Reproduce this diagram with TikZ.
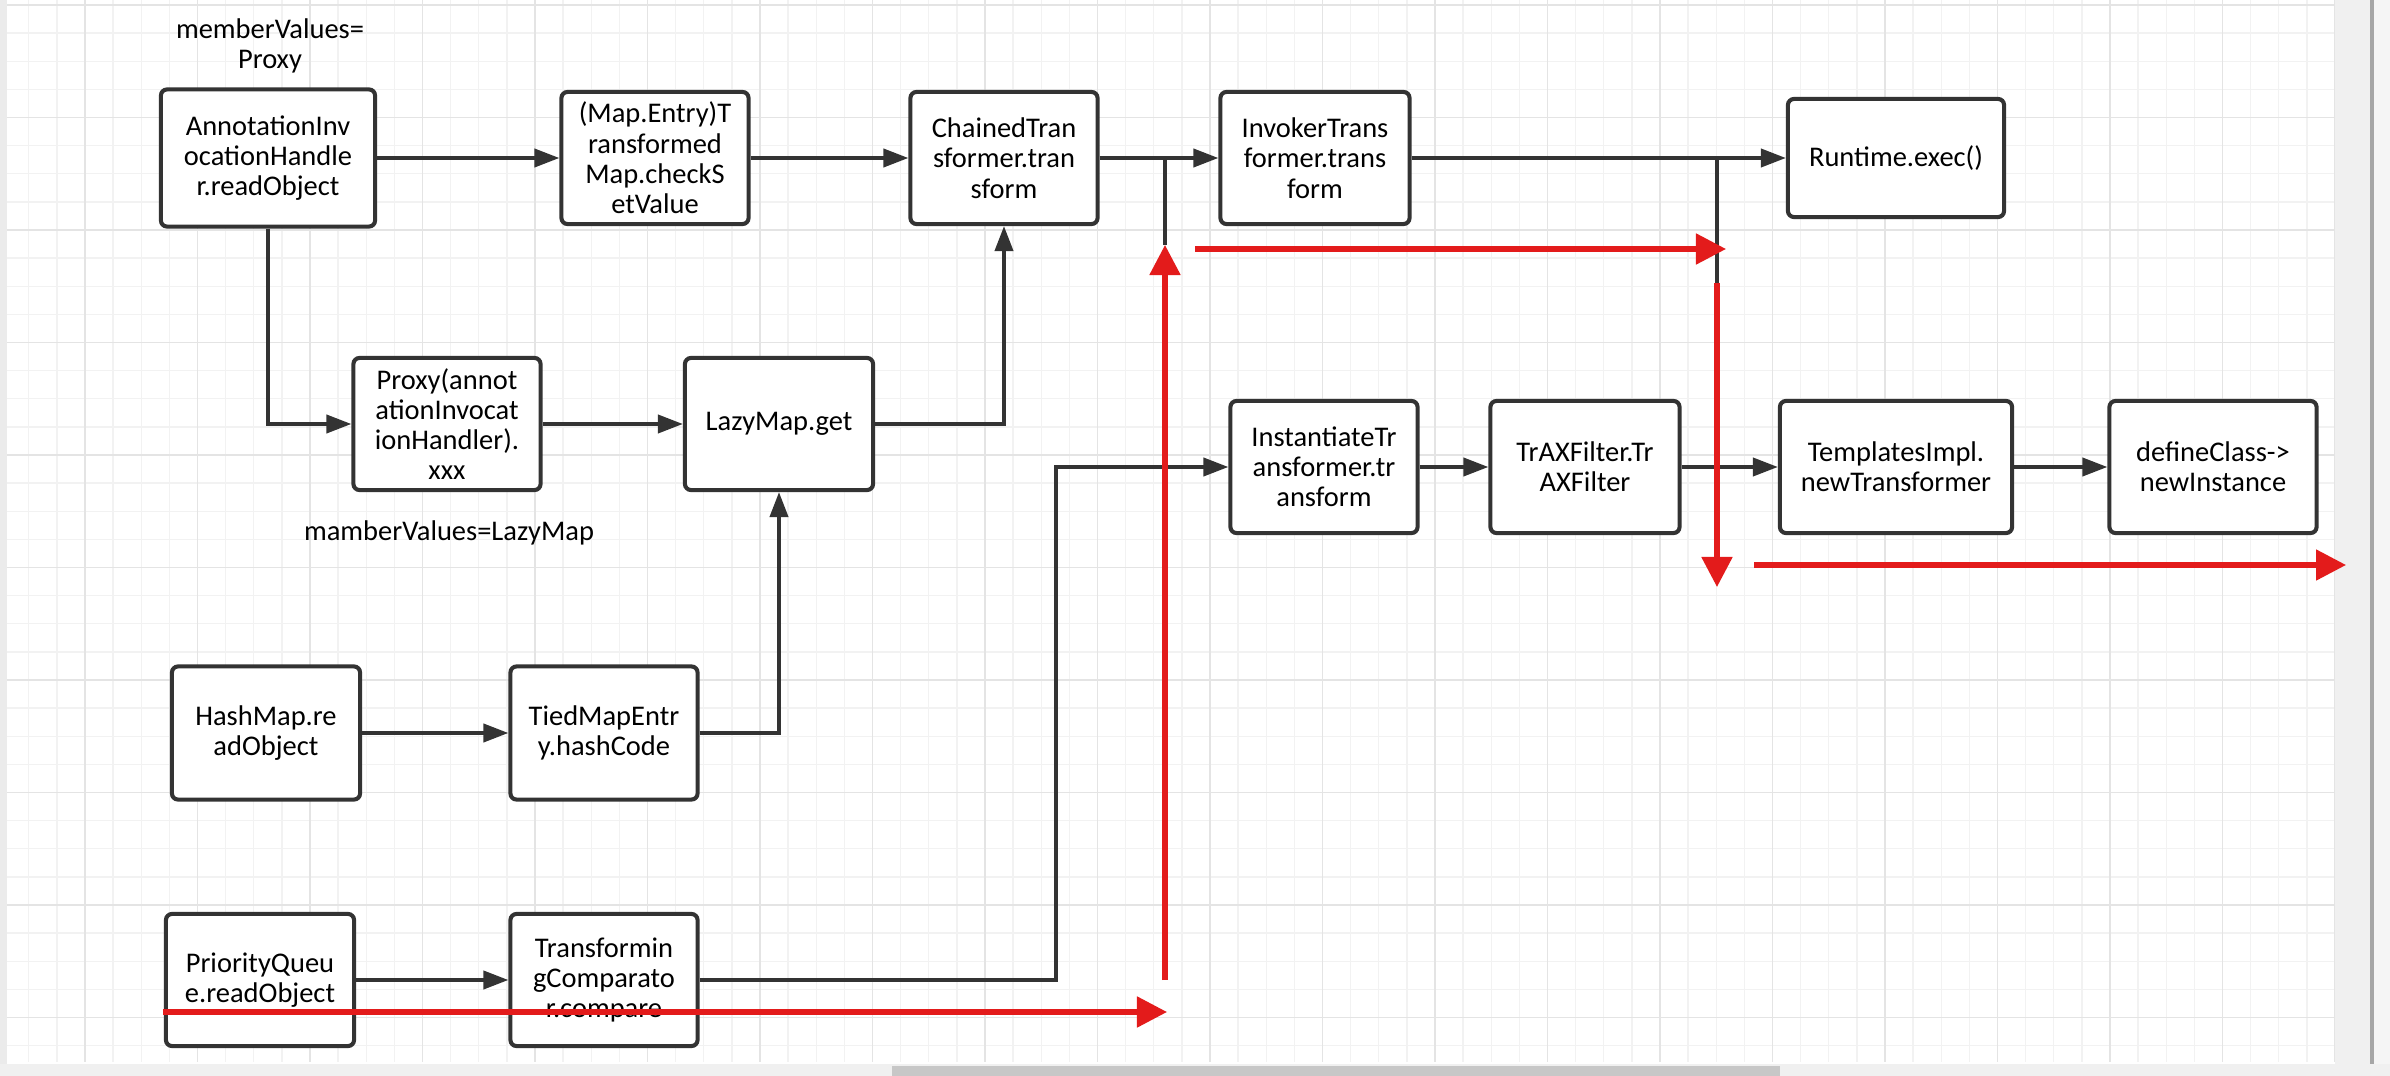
\documentclass[tikz,border=0pt]{standalone}
\usepackage{fontspec}
\setmainfont{Carlito}
\usetikzlibrary{arrows.meta}
\definecolor{boxline}{HTML}{333333}
\definecolor{hotred}{HTML}{E31B1B}
\definecolor{gridmajor}{HTML}{E4E4E4}
\definecolor{gridminor}{HTML}{F2F2F2}
\tikzset{
  box/.style={draw=boxline, line width=1.15pt, rounded corners=0.06cm, fill=white, align=center,
    minimum height=1.32cm, inner sep=1pt},
  link/.style={draw=boxline, line width=1.1pt, -{Triangle[length=0.25cm,width=0.18cm]}},
  stub/.style={draw=boxline, line width=1pt},
  hot/.style={draw=hotred, line width=1.45pt, -{Triangle[length=0.3cm,width=0.3cm]}}
}
\begin{document}
\begin{tikzpicture}[x=0.01cm,y=-0.01cm,font=\fontsize{8.1}{8.6}\selectfont]
\useasboundingbox (0,0) rectangle (2390,1076);
\fill[white] (0,0) rectangle (2390,1076);
\foreach \k in {0,...,83} \draw[gridminor,line width=0.4pt] ({0.625+\k*28.125},0) -- ({0.625+\k*28.125},1062);
\foreach \k in {0,...,37} \draw[gridminor,line width=0.4pt] (0,{5+\k*28.125}) -- (2335,{5+\k*28.125});
\foreach \k in {0,...,20} \draw[gridmajor,line width=0.5pt] ({85+\k*112.5},0) -- ({85+\k*112.5},1062);
\foreach \k in {0,...,9} \draw[gridmajor,line width=0.5pt] (0,{5+\k*112.5}) -- (2335,{5+\k*112.5});
\fill[black!6] (2335,0) rectangle (2390,1076);
\fill[black!35] (2370,0) rectangle (2374,1076);
\fill[black!4] (2374,0) rectangle (2390,1076);
\fill[black!8] (0,0) rectangle (7,1076);
\fill[black!6] (0,1064) rectangle (2390,1076);
\fill[black!22] (892,1066) rectangle (1780,1076);
\node (l-proxy) at (270,46) [align=center] {memberValues=\\Proxy};
\node (l-lazy) at (449,533) [] {mamberValues=LazyMap};
\node (n-anno) at (268,158) [box,minimum width=2.14cm,minimum height=1.37cm] {AnnotationInv\\ocationHandle\\r.readObject};
\node (n-entry) at (655,158) [box,minimum width=1.87cm] {(Map.Entry)T\\ransformed\\Map.checkS\\etValue};
\node (n-chained) at (1004,158) [box,minimum width=1.87cm] {ChainedTran\\sformer.tran\\sform};
\node (n-invoker) at (1315,158) [box,minimum width=1.89cm] {InvokerTrans\\former.trans\\form};
\node (n-runtime) at (1896,158) [box,minimum width=2.16cm,minimum height=1.18cm] {Runtime.exec()};
\node (n-proxy) at (447,424) [box,minimum width=1.87cm] {Proxy(annot\\ationInvocat\\ionHandler).\\xxx};
\node (n-lazy) at (779,424) [box,minimum width=1.88cm] {LazyMap.get};
\node (n-inst) at (1324,467) [box,minimum width=1.87cm] {InstantiateTr\\ansformer.tr\\ansform};
\node (n-trax) at (1585,467) [box,minimum width=1.89cm] {TrAXFilter.Tr\\AXFilter};
\node (n-templ) at (1896,467) [box,minimum width=2.32cm] {TemplatesImpl.\\newTransformer};
\node (n-define) at (2213,467) [box,minimum width=2.07cm] {defineClass->\\newInstance};
\node (n-hash) at (266,733) [box,minimum width=1.88cm,minimum height=1.33cm] {HashMap.re\\adObject};
\node (n-tied) at (604,733) [box,minimum width=1.87cm,minimum height=1.33cm] {TiedMapEntr\\y.hashCode};
\node (n-queue) at (260,980) [box,minimum width=1.88cm] {PriorityQueu\\e.readObject};
\node (n-comp) at (604,980) [box,minimum width=1.87cm] {Transformin\\gComparato\\r.compare};
\coordinate (b-comp) at (1056,980);
\coordinate (j-chain) at (1165,158);
\coordinate (j-chain-end) at (1165,245);
\coordinate (j-invoker) at (1717,158);
\coordinate (j-invoker-end) at (1717,283);
\coordinate (r-up) at (1165,980);
\coordinate (r-mid-a) at (1195,249);
\coordinate (r-mid-b) at (1726,249);
\coordinate (r-down) at (1717,587);
\coordinate (r-right-a) at (1754,565);
\coordinate (r-right-b) at (2346,565);
\coordinate (r-low-a) at (163,1012);
\coordinate (r-low-b) at (1167,1012);
\draw[link] (n-anno) -- (n-entry);
\draw[link] (n-entry) -- (n-chained);
\draw[link] (n-chained) -- (n-invoker);
\draw[link] (n-invoker) -- (n-runtime);
\draw[link] (n-anno.south) |- (n-proxy.west);
\draw[link] (n-proxy) -- (n-lazy);
\draw[link] (n-lazy.east) -| (n-chained.south);
\draw[link] (n-hash) -- (n-tied);
\draw[link] (n-tied.east) -| (n-lazy.south);
\draw[link] (n-queue) -- (n-comp);
\draw[link] (n-comp.east) -- (b-comp) |- (n-inst.west);
\draw[link] (n-inst) -- (n-trax);
\draw[link] (n-trax) -- (n-templ);
\draw[link] (n-templ) -- (n-define);
\draw[stub] (j-chain) -- (j-chain-end);
\draw[stub] (j-invoker) -- (j-invoker-end);
\draw[hot] (r-up) -- (j-chain-end);
\draw[hot] (r-mid-a) -- (r-mid-b);
\draw[hot] (j-invoker-end) -- (r-down);
\draw[hot] (r-right-a) -- (r-right-b);
\draw[hot] (r-low-a) -- (r-low-b);
\end{tikzpicture}
\end{document}
